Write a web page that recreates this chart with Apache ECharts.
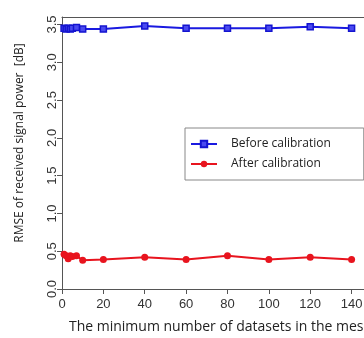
<!DOCTYPE html>
<html>
<head>
<meta charset="utf-8">
<script src="https://cdn.jsdelivr.net/npm/echarts@6/dist/echarts.min.js"></script>
<style>
  html, body { margin: 0; padding: 0; background: #fff; }
  #chart { width: 364px; height: 338px; }
</style>
</head>
<body>
<div id="chart"></div>
<script>
// Minimum number of datasets per mesh cell
const datasetCounts = [1, 2, 3, 4, 5, 7, 10, 20, 40, 60, 80, 100, 120, 140];
// RMSE of received signal power [dB]
const beforeCalibration = [3.45, 3.44, 3.45, 3.44, 3.45, 3.46, 3.44, 3.44, 3.48, 3.45, 3.45, 3.45, 3.47, 3.45];
const afterCalibration  = [0.46, 0.44, 0.40, 0.44, 0.43, 0.44, 0.38, 0.39, 0.42, 0.39, 0.44, 0.39, 0.42, 0.39];

const xTicks = [0, 20, 40, 60, 80, 100, 120, 140];
const yTicks = [0.0, 0.5, 1.0, 1.5, 2.0, 2.5, 3.0, 3.5];

const pairs = (xs, ys) => xs.map((x, i) => [x, ys[i]]);

const axisColor = '#555';
const tickFont = { fontFamily: 'Liberation Sans', fontSize: 13, color: '#333' };

const chart = echarts.init(document.getElementById('chart'), null, { renderer: 'canvas' });
chart.setOption({
  animation: false,
  backgroundColor: '#fff',
  grid: { left: 62, top: 17, right: 0, bottom: 49, outerBoundsMode: 'none' },
  xAxis: [
    {
      type: 'value', min: 0, max: 146,
      name: 'The minimum number of datasets in the mesh',
      nameLocation: 'middle', nameGap: 31,
      nameTextStyle: { fontFamily: 'Open Sans', fontSize: 14, color: '#222', padding: [0, 0, 0, 15] },
      axisLine: { show: true, onZero: false, lineStyle: { color: axisColor } },
      axisTick: { show: true, length: 5, customValues: xTicks, lineStyle: { color: axisColor } },
      axisLabel: { customValues: xTicks, margin: 9, ...tickFont },
      splitLine: { show: false }
    },
    {
      // top edge of the plot box
      type: 'value', position: 'top', min: 0, max: 146,
      axisLine: { show: true, onZero: false, lineStyle: { color: axisColor } },
      axisTick: { show: false }, axisLabel: { show: false }, splitLine: { show: false }
    }
  ],
  yAxis: {
    type: 'value', min: 0, max: 3.6,
    name: 'RMSE of received signal power  [dB]',
    nameLocation: 'middle', nameGap: 36, nameRotate: 90,
    nameTextStyle: { fontFamily: 'Open Sans', fontSize: 12, color: '#222', padding: [0, 0, 0, 20] },
    axisLine: { show: true, onZero: false, lineStyle: { color: axisColor } },
    axisTick: { show: true, length: 5, customValues: yTicks, lineStyle: { color: axisColor } },
    axisLabel: {
      customValues: yTicks, rotate: 90, margin: 3,
      formatter: v => v.toFixed(1), ...tickFont
    },
    splitLine: { show: false }
  },
  legend: {
    orient: 'vertical',
    left: 185, top: 128,
    padding: [10, 33, 10, 5],
    itemGap: 8,
    itemWidth: 26, itemHeight: 8,
    backgroundColor: '#fff',
    borderColor: '#888', borderWidth: 1,
    textStyle: { fontFamily: 'Open Sans', fontSize: 12, color: '#222', padding: [0, 0, 0, 9] },
    data: ['Before calibration', 'After calibration']
  },
  series: [
    {
      name: 'Before calibration', type: 'line',
      data: pairs(datasetCounts, beforeCalibration),
      symbol: 'rect', symbolSize: 6,
      itemStyle: { color: '#4a4af0', borderColor: '#1414d0', borderWidth: 1.5 },
      lineStyle: { color: '#1a1ae0', width: 2 }
    },
    {
      name: 'After calibration', type: 'line',
      data: pairs(datasetCounts, afterCalibration),
      symbol: 'circle', symbolSize: 7,
      itemStyle: { color: '#e8141e' },
      lineStyle: { color: '#e8141e', width: 2 }
    }
  ]
});
</script>
</body>
</html>
